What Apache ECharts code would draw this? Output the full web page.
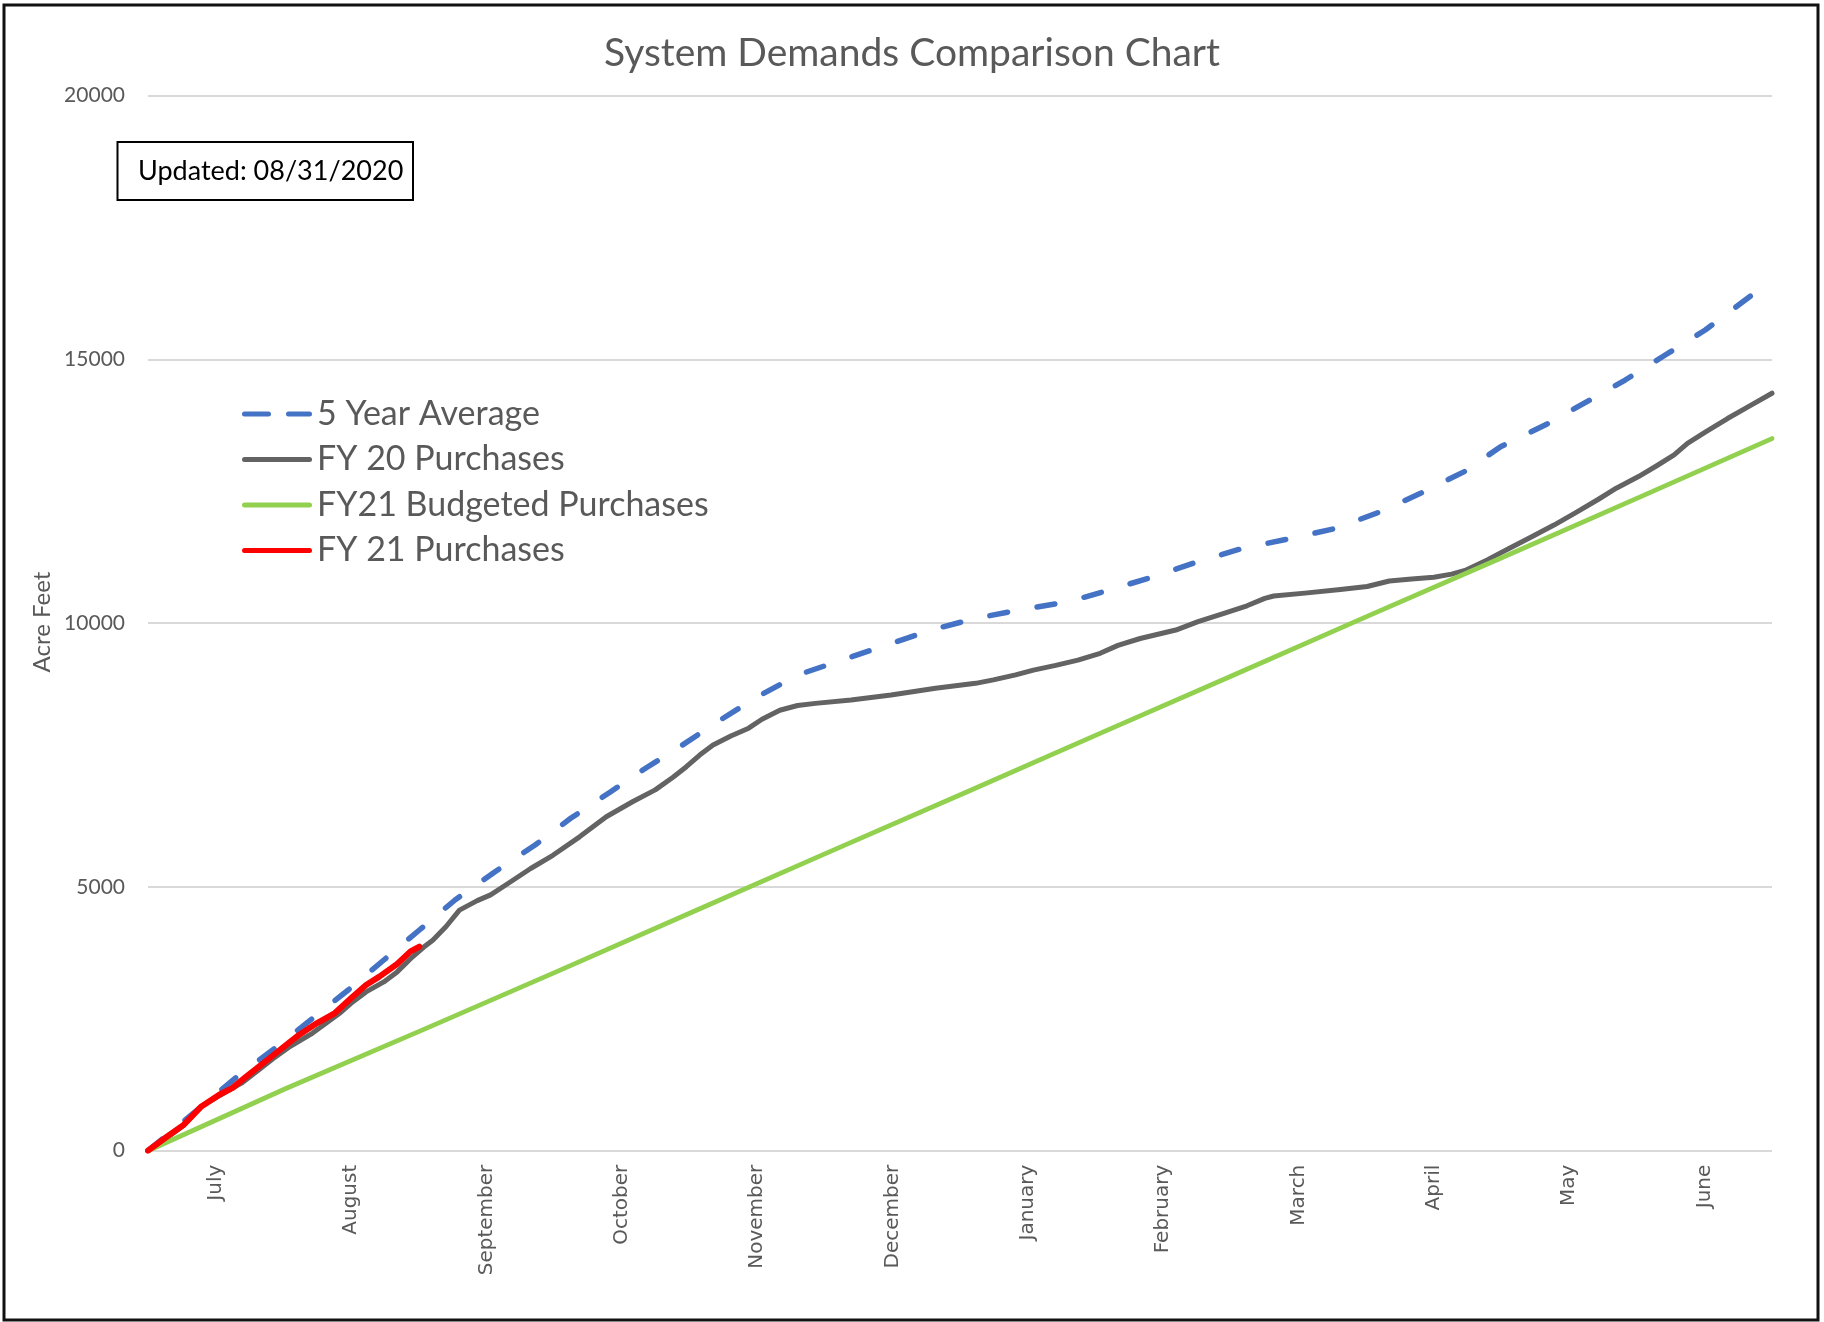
<!DOCTYPE html>
<html>
<head>
<meta charset="utf-8">
<title>System Demands Comparison Chart</title>
<script src="https://cdn.jsdelivr.net/npm/echarts@6/dist/echarts.min.js"></script>
<style>
  html, body { margin: 0; padding: 0; background: #fff; }
  #chart { width: 1824px; height: 1322px; }
</style>
</head>
<body>
<div id="chart"></div>
<script>
// Fiscal-year month labels (July through June)
const months = ['July', 'August', 'September', 'October', 'November', 'December',
  'January', 'February', 'March', 'April', 'May', 'June'];

// Cumulative acre feet by day of fiscal year: [day, value]
const fiveYearAverage = [
  [0, 0], [12, 834], [20, 1403], [29, 1972], [37, 2510], [45, 3046], [53, 3615],
  [61, 4184], [69, 4753], [78, 5289], [87, 5795], [95, 6301], [104, 6806],
  [112, 7260], [119, 7628], [128, 8132], [137, 8606], [146, 9018], [156, 9302],
  [166, 9587], [176, 9871], [186, 10093], [196, 10251], [207, 10409], [216, 10629],
  [226, 10881], [236, 11166], [246, 11419], [257, 11609], [267, 11799], [277, 12114],
  [286, 12462], [296, 12880], [304, 13346], [314, 13757], [323, 14180], [332, 14610],
  [341, 15084], [350, 15558], [358, 16064], [365, 16506]
];

const fy20Purchases = [
  [0, 0], [4, 230], [8, 480], [12, 840], [16, 1040], [21, 1280], [25, 1540],
  [28, 1740], [32, 1980], [37, 2230], [43, 2600], [46, 2820], [49, 3010],
  [53, 3200], [56, 3390], [59, 3640], [62, 3860], [64, 3990], [67, 4250],
  [70, 4560], [74, 4740], [77, 4850], [81, 5070], [86, 5350], [91, 5600],
  [97, 5950], [103, 6330], [109, 6620], [114, 6840], [118, 7080], [121, 7280],
  [124, 7500], [127, 7690], [131, 7860], [135, 8010], [138, 8180], [142, 8350],
  [146, 8440], [150, 8480], [158, 8545], [167, 8640], [177, 8765], [186, 8860],
  [190, 8925], [195, 9020], [199, 9110], [204, 9200], [209, 9300], [214, 9430],
  [218, 9580], [223, 9710], [231, 9870], [236, 10030], [242, 10190], [247, 10330],
  [251, 10470], [253, 10515], [260, 10570], [268, 10640], [274, 10695], [279, 10800],
  [284, 10840], [289, 10870], [293, 10930], [296, 11000], [301, 11200], [306, 11420],
  [311, 11640], [316, 11860], [321, 12100], [326, 12350], [330, 12560], [335, 12780],
  [339, 12980], [343, 13190], [346, 13410], [350, 13620], [355, 13880], [360, 14120],
  [365, 14360]
];

const fy21Budgeted = [
  [0, 0], [31, 1180], [62, 2300], [92, 3400], [123, 4550], [153, 5660],
  [184, 6800], [215, 7950], [243, 8980], [274, 10130], [304, 11230],
  [335, 12380], [365, 13500]
];

const fy21Purchases = [
  [0, 0], [4, 250], [8, 490], [12, 840], [16, 1060], [19, 1190], [22, 1400],
  [25, 1600], [28, 1800], [31, 2000], [34, 2200], [38, 2420], [42, 2610],
  [46, 2920], [49, 3140], [52, 3300], [56, 3540], [59, 3780], [61, 3870]
];

const seriesNames = ['5 Year Average', 'FY 20 Purchases', 'FY21 Budgeted Purchases', 'FY 21 Purchases'];

const GREY_TEXT = '#595959';
const CALIBRI_LIKE = 'Lato, "Open Sans", sans-serif';

// Legend keys: a rounded bar, and two rounded dashes for the dashed series
const SOLID_KEY = 'path://M2.5,0H67.5A2.5,2.5,0,0,1,67.5,5H2.5A2.5,2.5,0,0,1,2.5,0Z';
const DASHED_KEY = 'path://M2.5,0H26.5A2.5,2.5,0,0,1,26.5,5H2.5A2.5,2.5,0,0,1,2.5,0Z' +
  'M46.5,0H67.5A2.5,2.5,0,0,1,67.5,5H46.5A2.5,2.5,0,0,1,46.5,0Z';

const chart = echarts.init(document.getElementById('chart'), null, { renderer: 'canvas' });

function lineSeries(name, data, color, width, type) {
  return {
    name: name,
    type: 'line',
    xAxisIndex: 0,
    yAxisIndex: 0,
    data: data,
    symbol: 'none',
    showSymbol: false,
    smooth: false,
    lineStyle: { color: color, width: width, type: type || 'solid', cap: 'round', join: 'round' },
    itemStyle: { color: color },
    emphasis: { disabled: true },
    animation: false
  };
}

chart.setOption({
  backgroundColor: '#ffffff',
  animation: false,
  title: {
    text: 'System Demands Comparison Chart',
    left: 'center',
    top: 31,
    padding: 0,
    textStyle: {
      fontFamily: CALIBRI_LIKE,
      fontSize: 39,
      fontWeight: 'normal',
      color: GREY_TEXT,
      lineHeight: 44
    }
  },
  legend: {
    orient: 'vertical',
    left: 242,
    top: 396,
    padding: 0,
    itemWidth: 70,
    itemHeight: 5.5,
    itemGap: 9.5,
    textStyle: {
      fontFamily: CALIBRI_LIKE,
      fontSize: 34,
      color: GREY_TEXT,
      lineHeight: 36
    },
    data: [
      { name: seriesNames[0], icon: DASHED_KEY },
      { name: seriesNames[1], icon: SOLID_KEY },
      { name: seriesNames[2], icon: SOLID_KEY },
      { name: seriesNames[3], icon: SOLID_KEY }
    ]
  },
  grid: {
    left: 148,
    right: 52,
    top: 95.7,
    bottom: 171.3,
    containLabel: false
  },
  xAxis: [
    {
      type: 'value',
      min: 0,
      max: 365,
      show: false
    },
    {
      type: 'category',
      position: 'bottom',
      data: months,
      boundaryGap: true,
      axisLine: { show: false },
      axisTick: { show: false },
      splitLine: { show: false },
      axisLabel: {
        rotate: 90,
        margin: 14,
        interval: 0,
        fontFamily: '"DejaVu Sans", Verdana, sans-serif',
        fontSize: 20,
        color: GREY_TEXT
      }
    }
  ],
  yAxis: {
    type: 'value',
    min: 0,
    max: 20000,
    interval: 5000,
    axisLine: { show: false },
    axisTick: { show: false },
    axisLabel: {
      margin: 23,
      fontFamily: CALIBRI_LIKE,
      fontSize: 21,
      color: GREY_TEXT,
      formatter: function (v) { return String(v); }
    },
    splitLine: { lineStyle: { color: '#d9d9d9', width: 2 } }
  },
  series: [
    lineSeries(seriesNames[0], fiveYearAverage, '#4472C4', 5.5, [18, 30]),
    lineSeries(seriesNames[1], fy20Purchases, '#636363', 5),
    lineSeries(seriesNames[2], fy21Budgeted, '#92D050', 4.8),
    lineSeries(seriesNames[3], fy21Purchases, '#FF0000', 6)
  ],
  graphic: [
    {
      type: 'rect',
      shape: { x: 4, y: 5, width: 1814, height: 1315 },
      style: { fill: 'none', stroke: '#111', lineWidth: 3 },
      silent: true,
      z: 100
    },
    {
      type: 'text',
      x: 42,
      y: 622,
      rotation: Math.PI / 2,
      style: {
        text: 'Acre Feet',
        font: '24px ' + CALIBRI_LIKE,
        fill: GREY_TEXT,
        textAlign: 'center',
        textVerticalAlign: 'middle'
      },
      silent: true
    },
    {
      type: 'group',
      z: 50,
      children: [
        {
          type: 'rect',
          shape: { x: 117.5, y: 142, width: 295.5, height: 58 },
          style: { fill: '#ffffff', stroke: '#000000', lineWidth: 2 }
        },
        {
          type: 'text',
          x: 138,
          y: 171,
          style: {
            text: 'Updated: 08/31/2020',
            font: '27px ' + CALIBRI_LIKE,
            fill: '#000000',
            textAlign: 'left',
            textVerticalAlign: 'middle'
          }
        }
      ]
    }
  ]
});
</script>
</body>
</html>
